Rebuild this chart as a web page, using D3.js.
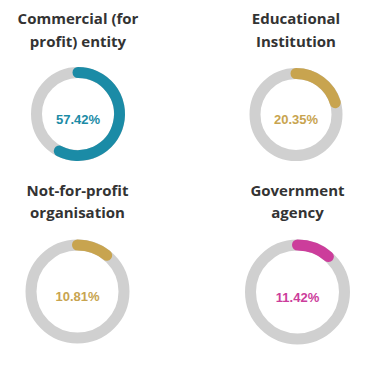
<!DOCTYPE html>
<html>
<head>
<meta charset="utf-8">
<script src="https://cdn.jsdelivr.net/npm/d3@7"></script>
<style>
  html, body { margin: 0; padding: 0; background: #ffffff; }
  svg { display: block; }
</style>
</head>
<body>
<svg id="chart" width="383" height="367"></svg>
<script>
// ---- data ----
const categories = ["Commercial (for profit) entity", "Educational Institution", "Not-for-profit organisation", "Government agency"];
const titleLines = [["Commercial (for", "profit) entity"], ["Educational", "Institution"], ["Not-for-profit", "organisation"], ["Government", "agency"]];
const values = [57.42, 20.35, 10.81, 11.42];
const valueLabels = ["57.42%", "20.35%", "10.81%", "11.42%"];

// ---- style / layout ----
const colors = ["#1b8ba6", "#c8a44f", "#c8a44f", "#cc3d9b"];
const trackColor = "#d0d0d0";
const panels = [
  { cx: 78,  titleY: 24,    ringY: 114, r: 41.5 },
  { cx: 296, titleY: 24,    ringY: 114.5, r: 41 },
  { cx: 77.5, titleY: 195.7, ringY: 291.5, r: 46.5 },
  { cx: 297.5, titleY: 195.7, ringY: 292, r: 47 }
];
const thickness = 11;
const lineGap = 22.5;

const svg = d3.select("#chart");
const angle = d3.scaleLinear().domain([0, 100]).range([0, 2 * Math.PI]);

categories.forEach((cat, i) => {
  const p = panels[i];
  const g = svg.append("g").attr("class", "panel").attr("data-category", cat);

  const title = g.append("text")
    .attr("x", p.cx)
    .attr("y", p.titleY)
    .attr("text-anchor", "middle")
    .attr("font-family", "'Open Sans', sans-serif")
    .attr("font-weight", "bold")
    .attr("font-size", "15px")
    .attr("fill", "#333333");
  titleLines[i].forEach((ln, j) => {
    title.append("tspan").attr("x", p.cx).attr("dy", j === 0 ? 0 : lineGap).text(ln);
  });

  const ring = g.append("g").attr("transform", `translate(${p.cx},${p.ringY})`);
  ring.append("circle")
    .attr("r", p.r)
    .attr("fill", "none")
    .attr("stroke", trackColor)
    .attr("stroke-width", thickness);

  const path = d3.path();
  path.arc(0, 0, p.r, angle(0) - Math.PI / 2, angle(values[i]) - Math.PI / 2, false);
  ring.append("path")
    .attr("d", path.toString())
    .attr("fill", "none")
    .attr("stroke", colors[i])
    .attr("stroke-width", thickness)
    .attr("stroke-linecap", "round");

  ring.append("text")
    .attr("x", 0)
    .attr("y", 9.5)
    .attr("text-anchor", "middle")
    .attr("font-family", "'Liberation Sans', Arial, sans-serif")
    .attr("font-weight", "bold")
    .attr("font-size", "13px")
    .attr("fill", colors[i])
    .text(valueLabels[i]);
});
</script>
</body>
</html>
